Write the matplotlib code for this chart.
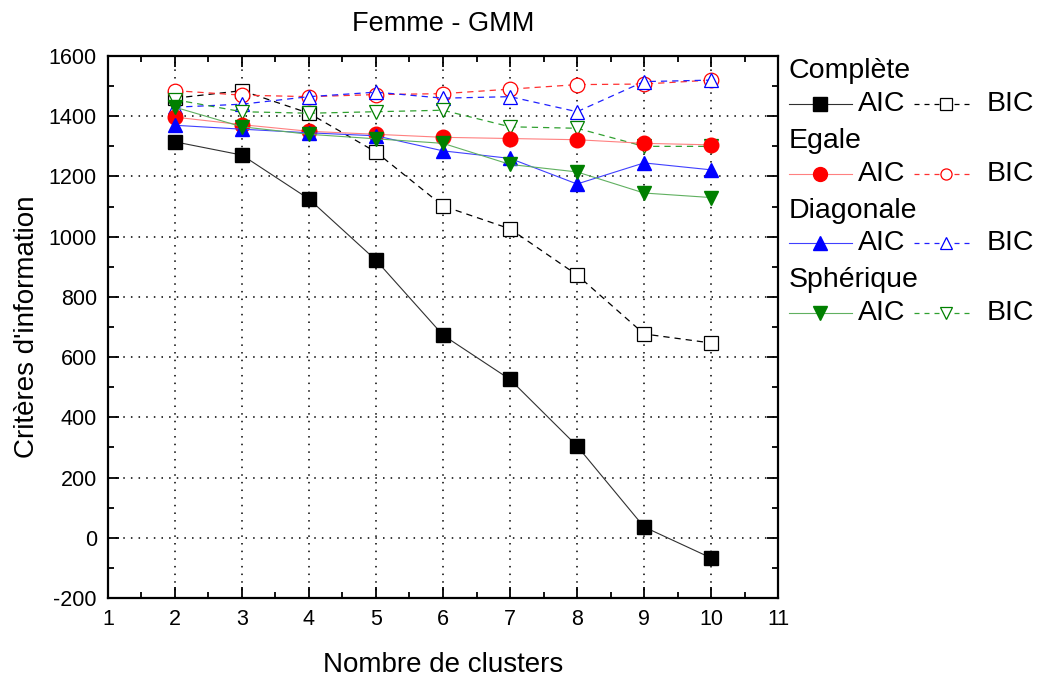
import matplotlib
matplotlib.use("Agg")
import matplotlib.pyplot as plt
from matplotlib.lines import Line2D
from matplotlib.ticker import MultipleLocator

plt.rcParams['font.family'] = ['Liberation Sans', 'DejaVu Sans']
plt.rcParams['axes.unicode_minus'] = False

clusters = [2, 3, 4, 5, 6, 7, 8, 9, 10]

complete_aic = [1315, 1271, 1125, 922, 673, 526, 305, 36, -67]
complete_bic = [1460, 1485, 1410, 1281, 1102, 1026, 873, 677, 647]
egale_aic = [1397, 1372, 1350, 1340, 1330, 1326, 1322, 1310, 1305]
egale_bic = [1485, 1470, 1465, 1472, 1475, 1490, 1505, 1507, 1520]
diag_aic = [1370, 1357, 1345, 1335, 1285, 1260, 1175, 1245, 1222]
diag_bic = [1430, 1440, 1465, 1480, 1460, 1465, 1415, 1515, 1520]
spher_aic = [1430, 1365, 1340, 1325, 1310, 1240, 1215, 1145, 1130]
spher_bic = [1455, 1415, 1410, 1415, 1420, 1365, 1360, 1300, 1300]

groups = ['Complète', 'Egale', 'Diagonale', 'Sphérique']
# (aic, bic, marker, marker color, aic line color, bic line color)
styles = [
    (complete_aic, complete_bic, 's', 'black', '#303030', 'black'),
    (egale_aic, egale_bic, 'o', 'red', '#ff8080', '#ff3030'),
    (diag_aic, diag_bic, '^', 'blue', '#4040ff', '#2020ff'),
    (spher_aic, spher_bic, 'v', 'green', '#60b060', '#30a030'),
]

fig = plt.figure(figsize=(10.41, 6.79), dpi=100)
ax = fig.add_axes([0.1037, 0.1193, 0.6437, 0.7982])

for aic, bic, m, mc, lc_a, lc_b in styles:
    ax.plot(clusters, bic, linestyle=(0, (5, 4)), color=lc_b, lw=0.9,
            marker=m, markersize=10.5, markerfacecolor='white',
            markeredgecolor=mc, markeredgewidth=0.9)
for aic, bic, m, mc, lc_a, lc_b in styles:
    ax.plot(clusters, aic, linestyle='-', color=lc_a, lw=0.8,
            marker=m, markersize=10.5, markerfacecolor=mc,
            markeredgecolor=mc)

ax.set_xlim(1, 11)
ax.set_ylim(-200, 1600)
ax.xaxis.set_major_locator(MultipleLocator(1))
ax.xaxis.set_minor_locator(MultipleLocator(0.5))
ax.yaxis.set_major_locator(MultipleLocator(200))
ax.yaxis.set_minor_locator(MultipleLocator(100))
ax.tick_params(which='both', direction='in', top=True, right=True,
               labelsize=15.5, width=1.3)
ax.tick_params(which='major', length=8, pad=8)
ax.tick_params(which='minor', length=4)
for s in ax.spines.values():
    s.set_linewidth(1.6)
ax.grid(True, which='major', color='black', linestyle=(0, (1, 4)), lw=1.1)

ax.set_xlabel('Nombre de clusters', fontsize=20, labelpad=16)
ax.set_ylabel("Critères d'information", fontsize=20, labelpad=6)
ax.set_title('Femme - GMM', fontsize=19.5, pad=18)

# custom legend, drawn in figure pixels
W, H = 1041, 679
def fx(px):
    return px / W
def fy(py):
    return 1 - py / H

rows = [(71, 104), (141, 174), (211, 243), (280, 313)]
for name, (ty, ly), st in zip(groups, rows, styles):
    aic, bic, m, mc, lc_a, lc_b = st
    fig.text(fx(789), fy(ty), name, fontsize=20.5, va='center', ha='left')
    fig.add_artist(Line2D([fx(789), fx(852)], [fy(ly), fy(ly)], color=lc_a,
                          lw=0.8, transform=fig.transFigure))
    fig.add_artist(Line2D([fx(820)], [fy(ly)], marker=m, markersize=10,
                          color=mc, transform=fig.transFigure))
    fig.text(fx(858), fy(ly), 'AIC', fontsize=20.5, va='center', ha='left')
    fig.add_artist(Line2D([fx(914), fx(974)], [fy(ly), fy(ly)], color=lc_b,
                          lw=0.9, linestyle=(0, (4, 4)),
                          transform=fig.transFigure))
    fig.add_artist(Line2D([fx(946)], [fy(ly)], marker=m, markersize=8,
                          markerfacecolor='white', markeredgecolor=mc,
                          markeredgewidth=0.9, transform=fig.transFigure))
    fig.text(fx(987), fy(ly), 'BIC', fontsize=20.5, va='center', ha='left')

fig.savefig('out.png', dpi=100)
